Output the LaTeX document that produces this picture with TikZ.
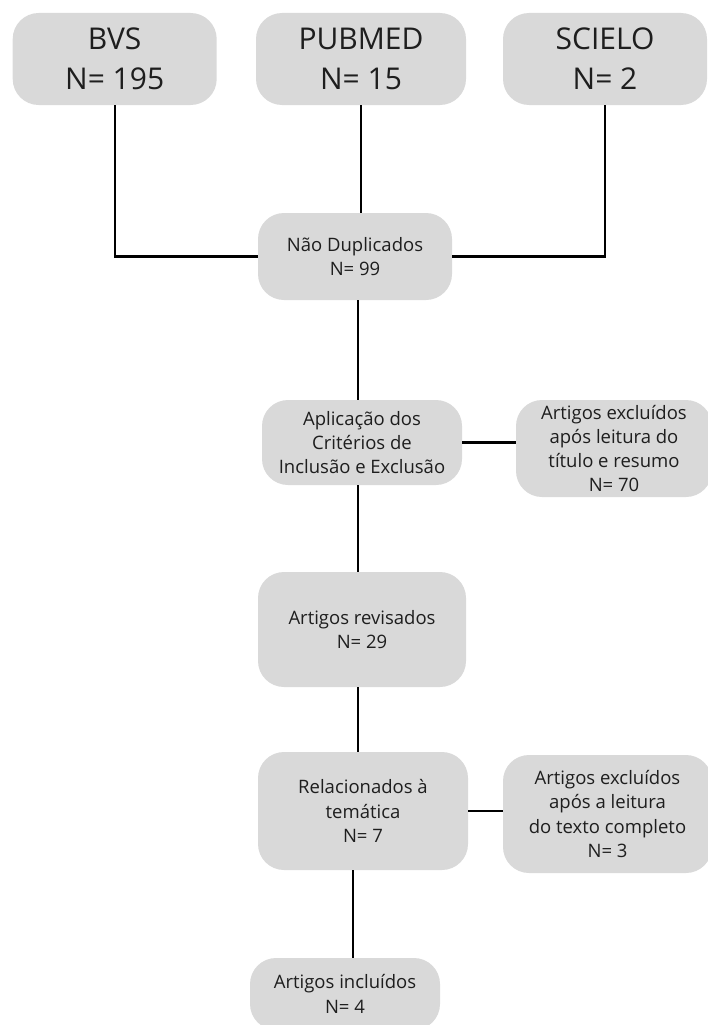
\documentclass[tikz,border=0pt]{standalone}
\usepackage{fontspec}
\setmainfont{Open Sans}
\definecolor{boxgray}{HTML}{D9D9D9}
\definecolor{txt}{HTML}{1E1E1E}
\begin{document}
\begin{tikzpicture}[x=1pt,y=-1pt,
  box/.style={fill=boxgray, rounded corners=26pt, align=center, text=txt,
     inner sep=0pt, font=\fontsize{18.5}{24.2}\selectfont},
  topbox/.style={box, font=\fontsize{30}{40}\selectfont},
  link/.style={line width=2.4pt, black}]
\useasboundingbox (0,0) rectangle (707,1025);
% top sources
\node[topbox, minimum width=204pt, minimum height=92pt] (bvs) at (114.7,59) {BVS\\N= 195};
\node[topbox, minimum width=210pt, minimum height=92pt] (pub) at (361,59) {PUBMED\\N= 15};
\node[topbox, minimum width=204pt, minimum height=92pt] (sci) at (605,59) {SCIELO\\N= 2};
% flow
\node[box, minimum width=194pt, minimum height=87pt] (dup) at (355,256.5) {Não Duplicados\\N= 99};
\node[box, minimum width=200pt, minimum height=85pt] (apl) at (362,442.5) {Aplicação dos\\Critérios de\\Inclusão e Exclusão};
\node[box, minimum width=196pt, minimum height=97pt] (exc1) at (614,448.5) {Artigos excluídos\\após leitura do\\título e resumo\\N= 70};
\node[box, minimum width=208pt, minimum height=115pt] (rev) at (362,629.5) {Artigos revisados\\N= 29};
\node[box, minimum width=210pt, minimum height=118pt] (rel) at (363,811) {Relacionados à\\temática\\N= 7};
\node[box, minimum width=209pt, minimum height=118pt] (exc2) at (607.5,814) {Artigos excluídos\\após a leitura\\do texto completo\\N= 3};
\node[box, minimum width=190pt, minimum height=72pt] (inc) at (345,994) {Artigos incluídos\\N= 4};
% connectors
\draw[link] (bvs.south) |- (dup.west);
\draw[link] (sci.south) |- (dup.east);
\draw[link] (pub.south) -- (pub.south |- dup.north);
\draw[link] ([xshift=3pt]dup.south) -- ([xshift=3pt]dup.south |- apl.north);
\draw[link] (apl.east) -- (apl.east -| exc1.west);
\draw[link] ([xshift=-4pt]apl.south) -- ([xshift=-4pt]apl.south |- rev.north);
\draw[link] ([xshift=-4pt]rev.south) -- ([xshift=-4pt]rev.south |- rel.north);
\draw[link] (rel.east) -- (rel.east -| exc2.west);
\draw[link] ([xshift=-10pt]rel.south) -- ([xshift=-10pt]rel.south |- inc.north);
\end{tikzpicture}
\end{document}
